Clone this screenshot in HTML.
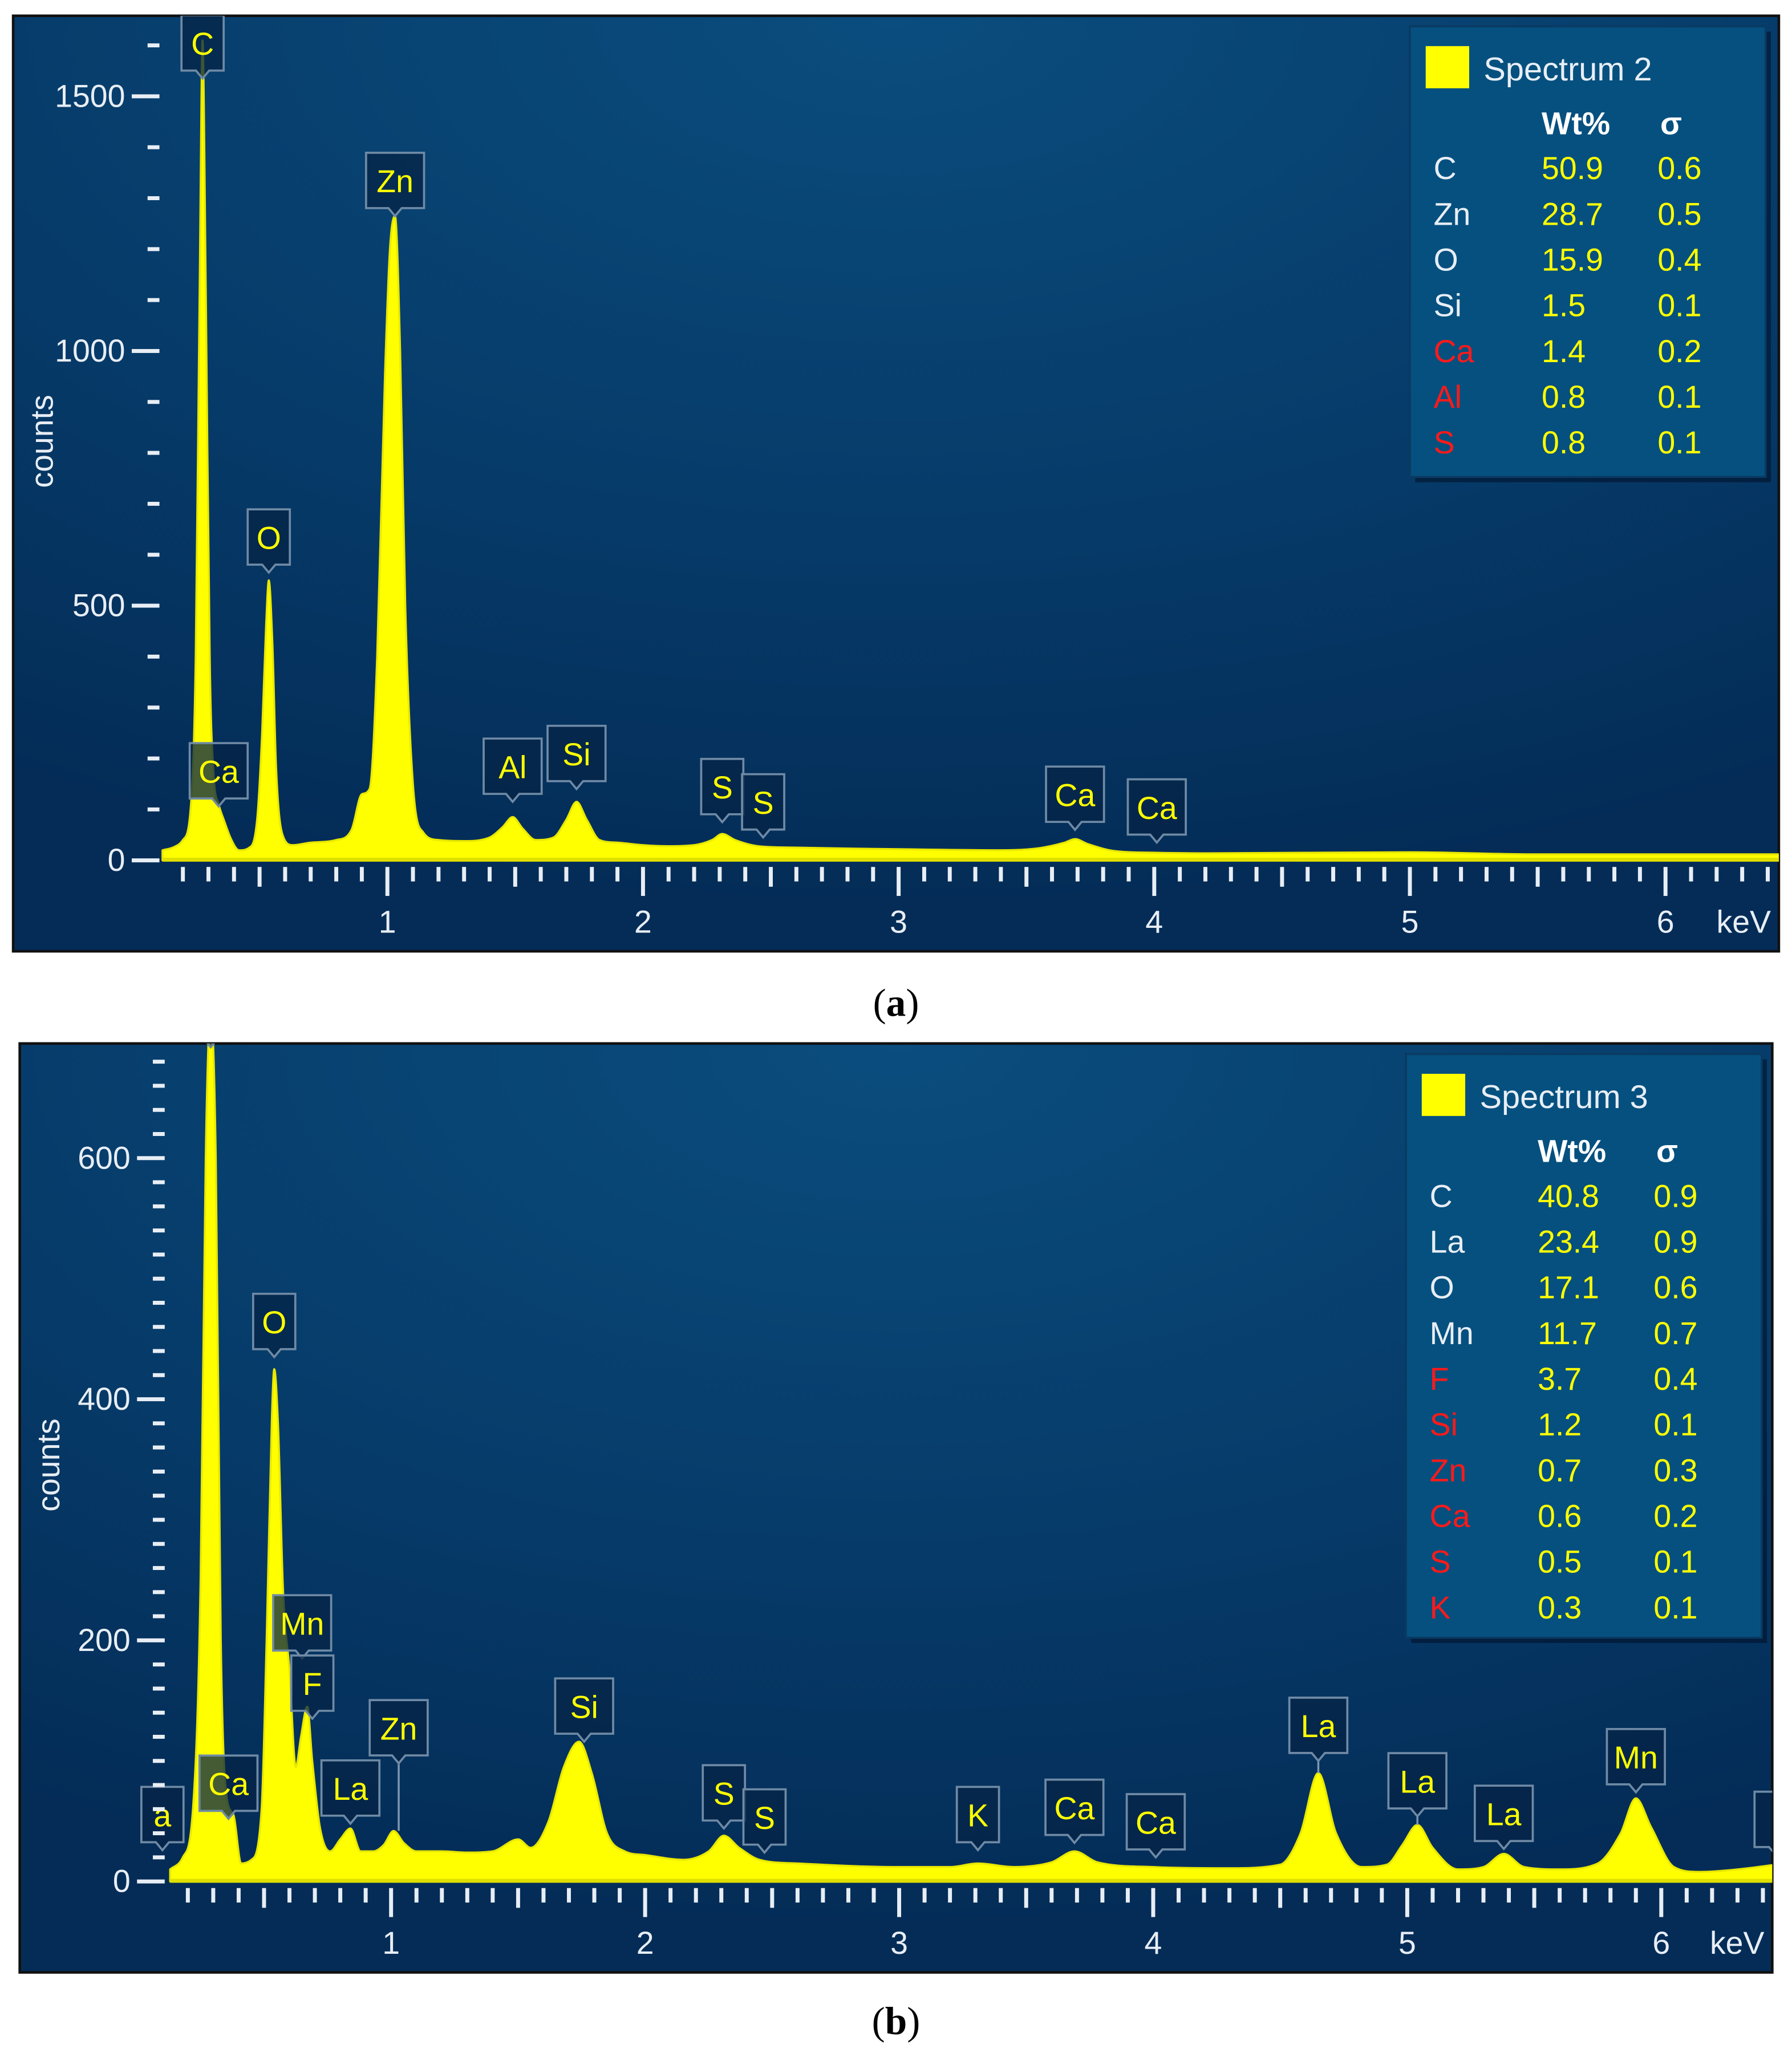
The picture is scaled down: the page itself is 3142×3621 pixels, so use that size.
<!DOCTYPE html>
<html><head><meta charset="utf-8"><style>
html,body{margin:0;padding:0;background:#fff;}
svg{display:block;}
</style></head><body>
<svg id="fig" width="3142" height="3621" viewBox="0 0 1360 1567.3" preserveAspectRatio="none" xmlns="http://www.w3.org/2000/svg">
<defs>
<radialGradient id="bgGrad" cx="0.5" cy="0" r="0.95">
<stop offset="0" stop-color="#0a4d7e"/><stop offset="0.6" stop-color="#063a68"/><stop offset="1" stop-color="#042c57"/>
</radialGradient>
<clipPath id="clipA"><rect x="10" y="12" width="1340" height="710"/></clipPath>
<clipPath id="clipB"><rect x="15" y="792" width="1330" height="705"/></clipPath>
</defs>
<g id="panelA"></g>
<g id="panelB"></g>
<text x="680" y="771" text-anchor="middle" font-family="Liberation Serif, serif" font-size="30" fill="#000">(<tspan font-weight="bold">a</tspan>)</text>
<text x="680" y="1544" text-anchor="middle" font-family="Liberation Serif, serif" font-size="30" fill="#000">(<tspan font-weight="bold">b</tspan>)</text>
</svg>
<script>
// ---- Panel a data ----
const energyA = [0.12,0.16,0.20,0.23,0.25,0.265,0.277,0.29,0.305,0.32,0.34,0.36,0.39,0.42,0.46,0.49,0.51,0.525,0.536,0.55,0.565,0.59,0.63,0.7,0.8,0.86,0.9,0.93,0.96,0.99,1.01,1.03,1.05,1.07,1.1,1.14,1.2,1.3,1.4,1.45,1.49,1.53,1.58,1.65,1.7,1.74,1.78,1.83,1.9,2.0,2.1,2.2,2.27,2.31,2.36,2.45,2.6,3.0,3.4,3.55,3.65,3.69,3.74,3.85,4.01,4.2,5.0,5.5,5.8,6.3,6.5];
const countsA = [20,25,40,100,400,1100,1610,1100,400,170,110,80,40,20,25,80,250,460,550,430,180,50,30,35,40,60,130,140,400,950,1200,1265,1000,500,150,55,40,38,45,65,85,62,40,45,80,115,80,40,35,30,28,30,40,52,40,28,25,22,20,24,35,42,32,18,15,14,16,12,12,12,12];
const yTicksA = [0,500,1000,1500];
const xTickLabelsA = [1,2,3,4,5,6];
const peakNamesA = ["C","Zn","O","Ca","Al","Si","S","S","Ca","Ca"];
const peakEnergyA = [0.277,1.03,0.536,0.34,1.49,1.74,2.31,2.47,3.69,4.01];
const peakBoxA = [1535,1265,565,106,115,140,75,45,60,35];
const peakTipA = [1535,1265,565,106,115,140,75,45,60,35];
const legElA = ["C","Zn","O","Si","Ca","Al","S"];
const legWtA = ["50.9","28.7","15.9","1.5","1.4","0.8","0.8"];
const legSigA = ["0.6","0.5","0.4","0.1","0.2","0.1","0.1"];
const legRedA = [false,false,false,false,true,true,true];
// ---- Panel b data ----
const energyB = [0.13,0.18,0.22,0.25,0.27,0.29,0.31,0.33,0.35,0.38,0.41,0.45,0.49,0.51,0.53,0.54,0.555,0.575,0.6,0.625,0.645,0.67,0.69,0.72,0.76,0.8,0.84,0.88,0.93,0.97,1.01,1.05,1.1,1.2,1.3,1.4,1.5,1.55,1.62,1.68,1.74,1.79,1.85,1.92,2.0,2.15,2.25,2.31,2.37,2.45,2.6,3.0,3.2,3.31,3.45,3.6,3.69,3.78,4.0,4.3,4.5,4.58,4.65,4.72,4.82,4.92,4.98,5.04,5.1,5.2,5.3,5.38,5.46,5.6,5.75,5.84,5.9,5.96,6.05,6.15,6.3,6.45];
const countsB = [10,20,60,250,600,720,600,200,75,55,15,18,60,200,380,425,380,240,175,95,120,145,100,45,25,35,44,25,25,30,42,32,25,25,24,25,35,28,50,95,116,90,40,25,22,18,25,38,28,18,15,12,12,15,12,16,25,16,12,11,14,40,90,40,12,14,30,47,28,10,12,23,12,10,15,40,69,45,12,8,10,14];
const yTicksB = [0,200,400,600];
const xTickLabelsB = [1,2,3,4,5,6];
const peakNamesB = ["C","O","Mn","F","Ca","La","Zn","Si","S","S","K","Ca","Ca","La","La","La","Mn","a","l"];
const peakEnergyB = [0.29,0.54,0.65,0.69,0.36,0.84,1.03,1.76,2.31,2.47,3.31,3.69,4.01,4.65,5.04,5.38,5.9,0.1,6.45];
const peakBoxB = [692,435,185,135,52,48,98,116,44,24,26,32,20,100,54,27,74,26,22];
const peakTipB = [692,430,181,135,52,44,42,116,40,24,24,30,20,90,47,23,69,26,22];
const legElB = ["C","La","O","Mn","F","Si","Zn","Ca","S","K"];
const legWtB = ["40.8","23.4","17.1","11.7","3.7","1.2","0.7","0.6","0.5","0.3"];
const legSigB = ["0.9","0.9","0.6","0.7","0.4","0.1","0.3","0.2","0.1","0.1"];
const legRedB = [false,false,false,false,true,true,true,true,true,true];

const NS="http://www.w3.org/2000/svg";
function mk(parent,tag,attrs,text){const e=document.createElementNS(NS,tag);for(const k in attrs)e.setAttribute(k,attrs[k]);if(text!==undefined)e.textContent=text;parent.appendChild(e);return e;}
const F="Liberation Sans, DejaVu Sans, sans-serif";

// monotone cubic path through points
function monotonePath(xs,ys){
  const n=xs.length;const dx=[],m=[],t=new Array(n);
  for(let i=0;i<n-1;i++){dx.push(xs[i+1]-xs[i]);m.push((ys[i+1]-ys[i])/(xs[i+1]-xs[i]));}
  t[0]=m[0];t[n-1]=m[n-2];
  for(let i=1;i<n-1;i++){ if(m[i-1]*m[i]<=0)t[i]=0; else t[i]=(m[i-1]+m[i])/2; }
  for(let i=0;i<n-1;i++){ if(m[i]===0){t[i]=0;t[i+1]=0;continue;}
    const a=t[i]/m[i],b=t[i+1]/m[i],s=a*a+b*b; if(s>9){const tau=3/Math.sqrt(s);t[i]=tau*a*m[i];t[i+1]=tau*b*m[i];}}
  let d='';
  for(let i=0;i<n-1;i++){const h=dx[i]/3;
    d+=` C${(xs[i]+h).toFixed(1)},${(ys[i]+t[i]*h).toFixed(1)} ${(xs[i+1]-h).toFixed(1)},${(ys[i+1]-t[i+1]*h).toFixed(1)} ${xs[i+1].toFixed(1)},${ys[i+1].toFixed(1)}`;}
  return d;
}

function drawPanel(g,cfg){
  const X=e=>cfg.x0+e*cfg.pxPerKeV;
  const Y=c=>cfg.y0-c*cfg.pxPerCount;
  const bg=mk(g,'rect',{x:cfg.bx,y:cfg.by,width:cfg.bw,height:cfg.bh,fill:'url(#bgGrad)',stroke:'#111',"stroke-width":2});
  
  
  const plot=mk(g,'g',{"clip-path":cfg.clip});
  
  
  const xs=cfg.energy.map(X);
  const ys=cfg.counts.map(c=>Y(Math.min(c,cfg.maxC)));
  let d='M'+xs[0].toFixed(1)+','+cfg.y0+' L'+xs[0].toFixed(1)+','+ys[0].toFixed(1)+monotonePath(xs,ys)+' L'+xs[xs.length-1].toFixed(1)+','+cfg.y0+' Z';
  const sp=mk(plot,'path',{d:d,fill:'#ffff00',stroke:'#e8e800',"stroke-width":1.5,"stroke-linejoin":"round"});
  
  
  const bl=mk(plot,'rect',{x:xs[0],y:cfg.y0-2,width:xs[xs.length-1]-xs[0],height:3,fill:'#e0e000'});
  
  
  for(let i=0;i<cfg.pn.length;i++){
    const cx=X(cfg.pe[i]);const bottom=Y(cfg.pb[i]);const tip=Y(cfg.pt[i]);
    const w=cfg.pn[i].length>1?44:32;const h=42;
    const lg=mk(plot,'g',{});
    
    
    if(tip-bottom>6){mk(lg,'line',{x1:cx,y1:bottom,x2:cx,y2:tip,stroke:'#7d97b0',"stroke-width":1.5});}
    mk(lg,'path',{d:`M${cx-w/2},${bottom-h-6} h${w} v${h} h${-w/2+5} l-5,6 l-5,-6 h${-w/2+5} Z`,fill:'rgba(6,36,70,0.75)',stroke:'#6f8aa5',"stroke-width":1.6});
    mk(lg,'text',{x:cx,y:bottom-18,"text-anchor":"middle","font-family":F,"font-size":24,fill:'#ffff00'},cfg.pn[i]);
  }
  const ax=mk(g,'g',{});
  
  
  for(let c=0;c<=cfg.maxTickC;c+=cfg.minorC){
    const major=cfg.yTicks.indexOf(c)>=0;
    mk(ax,'rect',{x:major?cfg.yAxX-21:cfg.yAxX-9,y:Y(c)-1.5,width:major?21:9,height:3,fill:'#e8eef5'});
  }
  for(const t of cfg.yTicks){
    const tl=mk(ax,'text',{x:cfg.yAxX-26,y:Y(t)+8,"text-anchor":"end","font-family":F,"font-size":24,fill:'#e8eef5'},String(t));
    
    
  }
  const yt=mk(g,'text',{x:0,y:0,transform:`translate(${cfg.bx+30},${cfg.yTitleY}) rotate(-90)`,"text-anchor":"middle","font-family":F,"font-size":24,fill:'#e8eef5'},'counts');
  
  
  const xa=mk(g,'g',{});
  
  
  for(let k=2;k<=cfg.maxTickK;k++){
    const e=k/10;const x=X(e);if(x>cfg.bx+cfg.bw-3)break;
    const len=k%10===0?22:(k%5===0?15:11);
    mk(xa,'rect',{x:x-1.5,y:cfg.y0+5,width:3,height:len,fill:'#e8eef5'});
  }
  for(const t of cfg.xTicks){
    const tl=mk(xa,'text',{x:X(t),y:cfg.y0+55,"text-anchor":"middle","font-family":F,"font-size":24,fill:'#e8eef5'},String(t));
    
    
  }
  const ku=mk(xa,'text',{x:cfg.bx+cfg.bw-6,y:cfg.y0+55,"text-anchor":"end","font-family":F,"font-size":24,fill:'#e8eef5'},'keV');
  
  
  const L=cfg.leg;
  const lgd=mk(g,'g',{});
  
  
  mk(lgd,'rect',{x:L.x+4,y:L.y+4,width:L.w,height:L.h,fill:'rgba(0,10,30,0.5)'});
  mk(lgd,'rect',{x:L.x,y:L.y,width:L.w,height:L.h,fill:'#05507f',stroke:'#0a3a62',"stroke-width":1.5});
  mk(lgd,'rect',{x:L.x+12,y:L.y+15,width:33,height:32,fill:'#ffff00'});
  mk(lgd,'text',{x:L.x+56,y:L.y+41,"font-family":F,"font-size":25,fill:'#e8eef5'},L.title);
  mk(lgd,'text',{x:L.x+100,y:L.y+82,"font-family":F,"font-size":24,"font-weight":"bold",fill:'#ffffff'},'Wt%');
  mk(lgd,'text',{x:L.x+190,y:L.y+82,"font-family":F,"font-size":24,"font-weight":"bold",fill:'#ffffff'},'σ');
  for(let i=0;i<L.el.length;i++){
    const y=L.y+116+i*34.7;
    const row=mk(lgd,'g',{});
    
    
    mk(row,'text',{x:L.x+18,y:y,"font-family":F,"font-size":24,fill:L.red[i]?'#ff1a1a':'#e8eef5'},L.el[i]);
    mk(row,'text',{x:L.x+100,y:y,"font-family":F,"font-size":24,fill:'#ffff00'},L.wt[i]);
    mk(row,'text',{x:L.x+188,y:y,"font-family":F,"font-size":24,fill:'#ffff00'},L.sig[i]);
  }
}

drawPanel(document.getElementById('panelA'),{
  bx:10,by:12,bw:1340,bh:710,clip:'url(#clipA)',
  x0:100,pxPerKeV:194,y0:653,pxPerCount:193.3/500,maxC:1700,
  energy:energyA,counts:countsA,yTicks:yTicksA,xTicks:xTickLabelsA,
  minorC:100,maxTickC:1600,maxTickK:66,yAxX:121,yTitleY:335,
  pn:peakNamesA,pe:peakEnergyA,pb:peakBoxA,pt:peakTipA,
  leg:{x:1070,y:20,w:270,h:342,title:'Spectrum 2',el:legElA,wt:legWtA,sig:legSigA,red:legRedA}
});
drawPanel(document.getElementById('panelB'),{
  bx:15,by:792,bw:1330,bh:705,clip:'url(#clipB)',
  x0:104,pxPerKeV:192.8,y0:1428,pxPerCount:183/200,maxC:760,
  energy:energyB,counts:countsB,yTicks:yTicksB,xTicks:xTickLabelsB,
  minorC:20,maxTickC:680,maxTickK:66,yAxX:125,yTitleY:1112,
  pn:peakNamesB,pe:peakEnergyB,pb:peakBoxB,pt:peakTipB,
  leg:{x:1067,y:800,w:270,h:443,title:'Spectrum 3',el:legElB,wt:legWtB,sig:legSigB,red:legRedB}
});
</script>
</body></html>
